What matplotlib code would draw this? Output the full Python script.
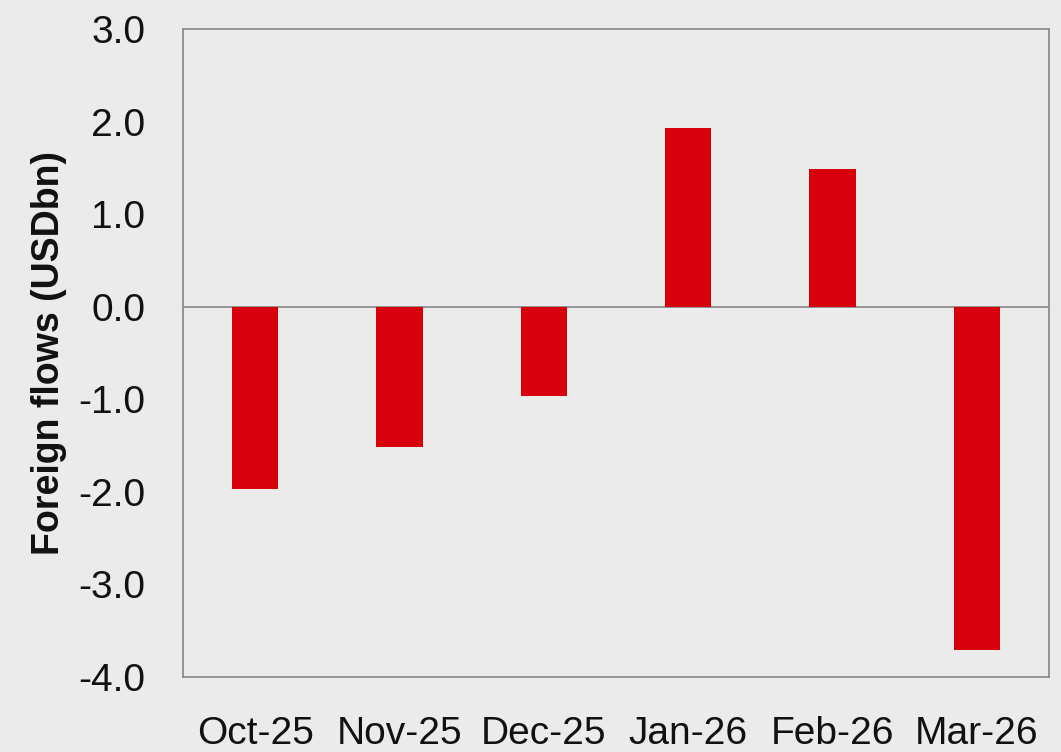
import matplotlib
matplotlib.use("Agg")
import matplotlib.pyplot as plt

categories = ["Oct-25", "Nov-25", "Dec-25", "Jan-26", "Feb-26", "Mar-26"]
flows = [-1.97, -1.52, -0.96, 1.93, 1.49, -3.71]
yticks = [3.0, 2.0, 1.0, 0.0, -1.0, -2.0, -3.0, -4.0]
ylabel = "Foreign flows (USDbn)"

bg = "#ebebeb"
fig = plt.figure(figsize=(10.61, 7.52), dpi=100, facecolor=bg)
ax = fig.add_axes([183/1061, 1-677/752, (1049-183)/1061, (677-29)/752])
ax.set_facecolor(bg)

x = list(range(len(categories)))
ax.bar(x, flows, width=0.32, color="#d9000d", zorder=3)
ax.axhline(0, color="#8c8c8c", linewidth=1.3, zorder=2)

ax.set_xlim(-0.5, len(categories) - 0.5)
ax.set_ylim(-4.0, 3.0)
ax.set_yticks(yticks)
ax.set_yticklabels([f"{v:.1f}" for v in yticks])
ax.set_xticks(x)
ax.set_xticklabels(categories)

fam = ["Liberation Sans", "DejaVu Sans"]
for lab in ax.get_yticklabels() + ax.get_xticklabels():
    lab.set_family(fam)
    lab.set_fontsize(28)
    lab.set_color("#111111")
ax.tick_params(axis="both", length=0)
ax.tick_params(axis="y", pad=27)
ax.tick_params(axis="x", pad=28)

for s in ax.spines.values():
    s.set_color("#8c8c8c")
    s.set_linewidth(1.3)

ax.set_ylabel(ylabel, family=fam, fontweight="bold",
              fontsize=27, color="#111111")
ax.yaxis.set_label_coords(-0.134, 0.5)

fig.savefig("out.png", dpi=100, facecolor=bg)
